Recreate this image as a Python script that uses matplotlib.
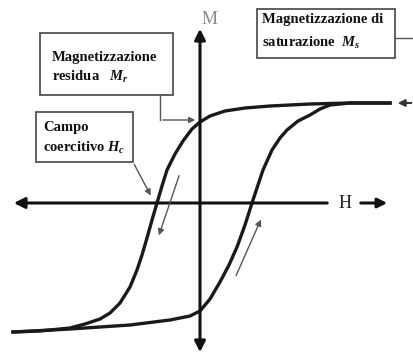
import matplotlib
matplotlib.use("Agg")
import matplotlib.pyplot as plt
from matplotlib.patches import Rectangle

plt.rcParams['font.family'] = ['Liberation Serif', 'DejaVu Serif']
plt.rcParams['mathtext.fontset'] = 'custom'
plt.rcParams['mathtext.it'] = 'Liberation Serif:italic:bold'
plt.rcParams['mathtext.rm'] = 'Liberation Serif:bold'

# hysteresis loop (H, M in arbitrary units)
H_down = [190, 150, 110, 70, 45, 25, 10, 0, -8, -17, -25, -33, -38, -43, -48, -53,
          -58, -63, -70, -80, -90, -100, -115, -130, -160, -187]
M_down = [100, 100, 99, 97, 95, 92, 87, 81, 74, 62, 49, 33, 17, 0, -17, -35,
          -52, -67, -84, -100, -110, -116, -121, -125, -128, -129]
H_up = [-187, -130, -70, -30, -10, 0, 10, 20, 29, 37, 45, 52, 58, 63, 72, 80,
        87, 98, 110, 120, 130, 150, 190]
M_up = [-129, -126, -122, -117, -113, -108, -96, -79, -62, -44, -22, 0, 18, 33, 53, 65,
        73, 82, 88, 94, 98, 100, 100]

Mr = 81
Hc = -43

fig = plt.figure(figsize=(4.14, 3.56), dpi=100)
ax = fig.add_axes([0, 0, 1, 1])
ax.set_xlim(-200, 214)
ax.set_ylim(-153, 203)
ax.axis('off')

# axes with arrows
ax.annotate('', xy=(-189, 0), xytext=(130, 0),
            arrowprops=dict(arrowstyle='-|>', color='#111111', lw=2.2, mutation_scale=16))
ax.annotate('', xy=(0, 177), xytext=(0, -2),
            arrowprops=dict(arrowstyle='-|>', color='#111111', lw=2.2, mutation_scale=16))
ax.annotate('', xy=(0, -152), xytext=(0, 2),
            arrowprops=dict(arrowstyle='-|>', color='#111111', lw=2.2, mutation_scale=16))
ax.text(145, 0, 'H', fontsize=13, ha='center', va='center', color='#222222')
ax.annotate('', xy=(190, 0), xytext=(158, 0),
            arrowprops=dict(arrowstyle='-|>', color='#111111', lw=2.2, mutation_scale=14))
ax.text(10, 183, 'M', fontsize=13, ha='center', va='center', color='#8a8a8a')

# loop
ax.plot(H_down, M_down, color='#1a1a1a', lw=2.4, solid_joinstyle='round')
ax.plot(H_up, M_up, color='#1a1a1a', lw=2.4, solid_joinstyle='round')

# direction arrows
ax.annotate('', xy=(-42, -35), xytext=(-20, 30),
            arrowprops=dict(arrowstyle='-|>', color='#555555', lw=1, mutation_scale=9))
ax.annotate('', xy=(62, -14), xytext=(35, -75),
            arrowprops=dict(arrowstyle='-|>', color='#555555', lw=1, mutation_scale=9))

# label boxes
box_kw = dict(fill=False, ec='#444444', lw=1.2)
txt_kw = dict(fontsize=10.5, fontweight='bold', ha='left', va='center', color='#111111')

ax.add_patch(Rectangle((-160, 108), 133, 62, **box_kw))
ax.text(-148, 146, 'Magnetizzazione', **txt_kw)
ax.text(-148, 126, 'residua   $M_r$', **txt_kw)
ax.plot([-40, -40], [108, Mr + 2], color='#555555', lw=1)
ax.annotate('', xy=(-2, Mr + 2), xytext=(-40, Mr + 2),
            arrowprops=dict(arrowstyle='-|>', color='#555555', lw=1, mutation_scale=9))

ax.add_patch(Rectangle((-164, 41), 97, 50, **box_kw))
ax.text(-157, 76, 'Campo', **txt_kw)
ax.text(-157, 55, 'coercitivo $H_c$', **txt_kw)
ax.annotate('', xy=(Hc - 5, 5), xytext=(-67, 41),
            arrowprops=dict(arrowstyle='-|>', color='#555555', lw=1, mutation_scale=9))

ax.add_patch(Rectangle((57, 145), 138, 49, **box_kw))
ax.text(62, 183, 'Magnetizzazione di', **txt_kw)
ax.text(62, 160, 'saturazione  $M_s$', **txt_kw)
ax.plot([195, 214], [165, 165], color='#555555', lw=1)
ax.annotate('', xy=(195, 100), xytext=(214, 100),
            arrowprops=dict(arrowstyle='-|>', color='#333333', lw=1.5, mutation_scale=10))

fig.savefig('out.png', dpi=100)
